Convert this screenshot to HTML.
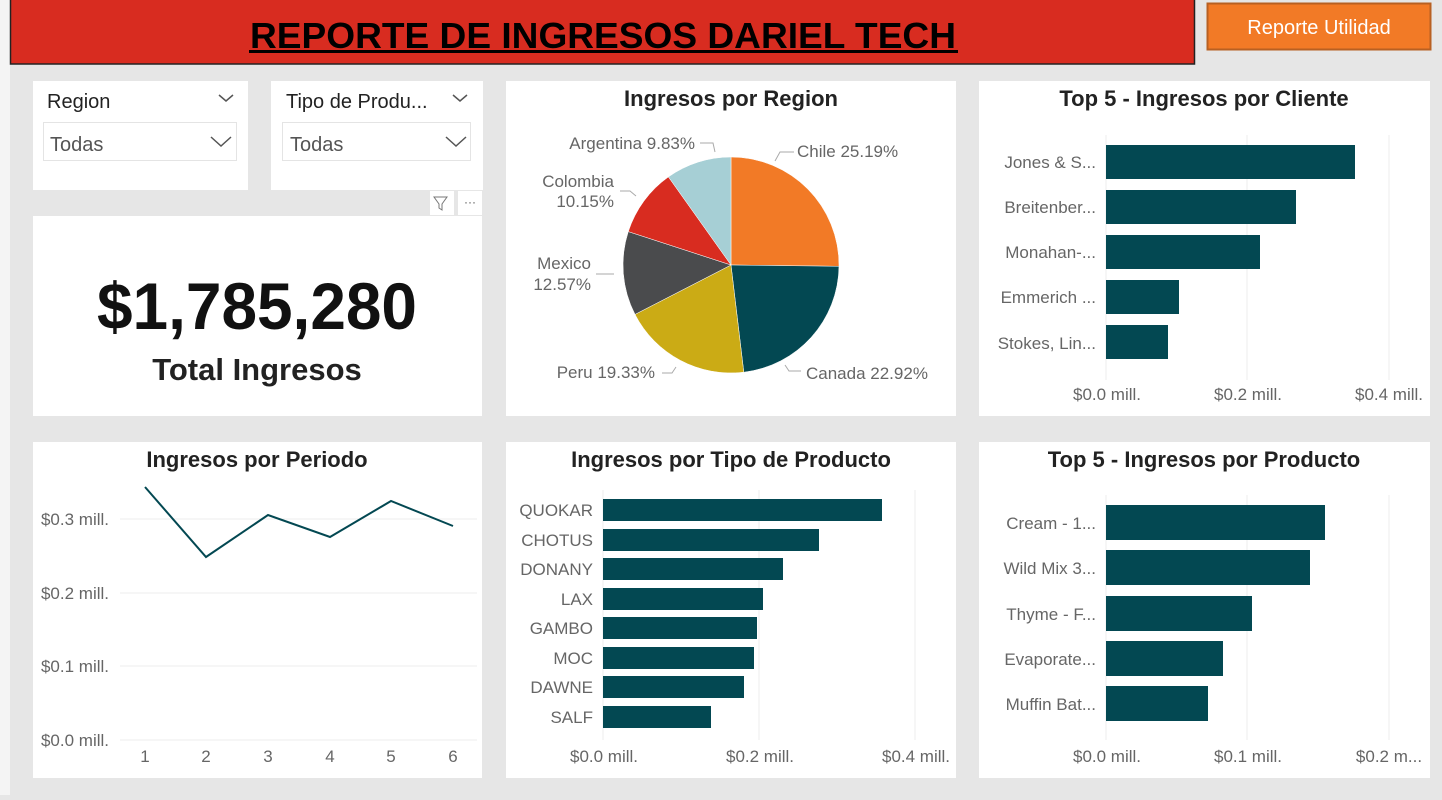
<!DOCTYPE html>
<html><head><meta charset="utf-8"><style>
body{margin:0;width:1442px;height:795px;overflow:hidden;background:#e6e6e6;font-family:"Liberation Sans",sans-serif}
</style></head><body>
<svg width="1442" height="795" xmlns="http://www.w3.org/2000/svg" font-family="Liberation Sans, sans-serif">
<rect x="0" y="0" width="10" height="795" fill="#f4f4f4"/>
<rect x="10.5" y="-1" width="1184" height="65" fill="#d82c20" stroke="#222" stroke-width="1.5"/>
<text x="603" y="48" text-anchor="middle" font-size="36" font-weight="bold" fill="#000" textLength="706" lengthAdjust="spacingAndGlyphs">REPORTE DE INGRESOS DARIEL TECH</text>
<rect x="249" y="50" width="709" height="3" fill="#000"/>
<rect x="1207.5" y="3.5" width="223" height="46" fill="#f27a26" stroke="#b86022" stroke-width="2"/>
<text x="1319" y="34" text-anchor="middle" font-size="20" fill="#fff">Reporte Utilidad</text>

<!-- slicers -->
<rect x="33" y="81" width="215" height="109" fill="#fff"/>
<text x="47" y="108" font-size="20" fill="#222">Region</text>
<path d="M219 95l7 6 7-6" fill="none" stroke="#555" stroke-width="1.5"/>
<rect x="43.5" y="122.5" width="193" height="38" fill="#fff" stroke="#e4e4e4"/>
<text x="50" y="151" font-size="20" fill="#555">Todas</text>
<path d="M211 137l10 9 10-9" fill="none" stroke="#555" stroke-width="1.5"/>
<rect x="271" y="81" width="212" height="109" fill="#fff"/>
<text x="286" y="108" font-size="20" fill="#222">Tipo de Produ...</text>
<path d="M453 95l7 6 7-6" fill="none" stroke="#555" stroke-width="1.5"/>
<rect x="282.5" y="122.5" width="188" height="38" fill="#fff" stroke="#e4e4e4"/>
<text x="290" y="151" font-size="20" fill="#555">Todas</text>
<path d="M446 137l10 9 10-9" fill="none" stroke="#555" stroke-width="1.5"/>
<rect x="430" y="191" width="24" height="24" fill="#fff"/><path d="M434 197h13l-5 7v6l-3-2v-4z" fill="none" stroke="#777"/>
<rect x="458" y="191" width="24" height="24" fill="#fff"/><text x="470" y="206" text-anchor="middle" font-size="12" fill="#555">···</text>

<!-- KPI -->
<rect x="33" y="216" width="449" height="200" fill="#fff"/>
<text x="257" y="329" text-anchor="middle" font-size="66" font-weight="bold" fill="#111" textLength="320" lengthAdjust="spacingAndGlyphs">$1,785,280</text>
<text x="257" y="380" text-anchor="middle" font-size="31" font-weight="bold" fill="#222">Total Ingresos</text>

<!-- pie -->
<rect x="506" y="81" width="450" height="335" fill="#fff"/>
<text x="731" y="106" text-anchor="middle" font-size="22" font-weight="bold" fill="#222">Ingresos por Region</text>
<g stroke="#fff" stroke-width="0.5">
<path d="M731 265L731 157A108 108 0 0 1 839 266.3Z" fill="#f27a26"/>
<path d="M731 265L839 266.3A108 108 0 0 1 743.8 372.2Z" fill="#034852"/>
<path d="M731 265L743.8 372.2A108 108 0 0 1 635 314.4Z" fill="#cbab15"/>
<path d="M731 265L635 314.4A108 108 0 0 1 628.3 231.6Z" fill="#4a4b4d"/>
<path d="M731 265L628.3 231.6A108 108 0 0 1 668.4 176.9Z" fill="#d82c20"/>
<path d="M731 265L668.4 176.9A108 108 0 0 1 731 157Z" fill="#a6cfd5"/>
</g>
<g fill="none" stroke="#aaa"><path d="M775 161l5-9h14"/><path d="M700 143h13l2 9"/><path d="M620 191h10l6 5"/><path d="M596 274h18"/><path d="M662 373h10l4-6"/><path d="M785 365l4 6h12"/></g>
<g font-size="17" fill="#666">
<text x="797" y="157">Chile 25.19%</text>
<text x="695" y="149" text-anchor="end">Argentina 9.83%</text>
<text x="614" y="187" text-anchor="end">Colombia</text><text x="614" y="207" text-anchor="end">10.15%</text>
<text x="591" y="269" text-anchor="end">Mexico</text><text x="591" y="290" text-anchor="end">12.57%</text>
<text x="655" y="378" text-anchor="end">Peru 19.33%</text>
<text x="806" y="379">Canada 22.92%</text>
</g>

<!-- client -->
<rect x="979" y="81" width="451" height="335" fill="#fff"/>
<text x="1204" y="106" text-anchor="middle" font-size="22" font-weight="bold" fill="#222">Top 5 - Ingresos por Cliente</text>
<g stroke="#eee"><path d="M1106 135V380M1247 135V380M1389 135V380"/></g>
<g fill="#034852"><rect x="1106" y="145" width="249" height="34"/><rect x="1106" y="190" width="190" height="34"/><rect x="1106" y="235" width="154" height="34"/><rect x="1106" y="280" width="73" height="34"/><rect x="1106" y="325" width="62" height="34"/></g>
<g font-size="17" fill="#666" text-anchor="end"><text x="1096" y="168">Jones &amp; S...</text><text x="1096" y="213">Breitenber...</text><text x="1096" y="258">Monahan-...</text><text x="1096" y="303">Emmerich ...</text><text x="1096" y="349">Stokes, Lin...</text></g>
<g font-size="17" fill="#666" text-anchor="middle"><text x="1107" y="400">$0.0 mill.</text><text x="1248" y="400">$0.2 mill.</text><text x="1389" y="400">$0.4 mill.</text></g>

<!-- line -->
<rect x="33" y="442" width="449" height="336" fill="#fff"/>
<text x="257" y="467" text-anchor="middle" font-size="22" font-weight="bold" fill="#222">Ingresos por Periodo</text>
<g stroke="#eee"><path d="M120 519H477M120 593H477M120 666H477M120 740H477"/></g>
<g font-size="17" fill="#666" text-anchor="end"><text x="109" y="525">$0.3 mill.</text><text x="109" y="599">$0.2 mill.</text><text x="109" y="672">$0.1 mill.</text><text x="109" y="746">$0.0 mill.</text></g>
<polyline points="145,487 206,557 268,515 330,537 391,501 453,526" fill="none" stroke="#034852" stroke-width="2"/>
<g font-size="17" fill="#666" text-anchor="middle"><text x="145" y="762">1</text><text x="206" y="762">2</text><text x="268" y="762">3</text><text x="330" y="762">4</text><text x="391" y="762">5</text><text x="453" y="762">6</text></g>

<!-- product type -->
<rect x="506" y="442" width="450" height="336" fill="#fff"/>
<text x="731" y="467" text-anchor="middle" font-size="22" font-weight="bold" fill="#222">Ingresos por Tipo de Producto</text>
<g stroke="#eee"><path d="M603 490V740M759 490V740M915 490V740"/></g>
<g fill="#034852"><rect x="603" y="499" width="279" height="22"/><rect x="603" y="529" width="216" height="22"/><rect x="603" y="558" width="180" height="22"/><rect x="603" y="588" width="160" height="22"/><rect x="603" y="617" width="154" height="22"/><rect x="603" y="647" width="151" height="22"/><rect x="603" y="676" width="141" height="22"/><rect x="603" y="706" width="108" height="22"/></g>
<g font-size="17" fill="#666" text-anchor="end"><text x="593" y="516">QUOKAR</text><text x="593" y="546">CHOTUS</text><text x="593" y="575">DONANY</text><text x="593" y="605">LAX</text><text x="593" y="634">GAMBO</text><text x="593" y="664">MOC</text><text x="593" y="693">DAWNE</text><text x="593" y="723">SALF</text></g>
<g font-size="17" fill="#666" text-anchor="middle"><text x="604" y="762">$0.0 mill.</text><text x="760" y="762">$0.2 mill.</text><text x="916" y="762">$0.4 mill.</text></g>

<!-- product -->
<rect x="979" y="442" width="451" height="336" fill="#fff"/>
<text x="1204" y="467" text-anchor="middle" font-size="22" font-weight="bold" fill="#222">Top 5 - Ingresos por Producto</text>
<g stroke="#eee"><path d="M1106 495V740M1247 495V740M1389 495V740"/></g>
<g fill="#034852"><rect x="1106" y="505" width="219" height="35"/><rect x="1106" y="550" width="204" height="35"/><rect x="1106" y="596" width="146" height="35"/><rect x="1106" y="641" width="117" height="35"/><rect x="1106" y="686" width="102" height="35"/></g>
<g font-size="17" fill="#666" text-anchor="end"><text x="1096" y="529">Cream - 1...</text><text x="1096" y="574">Wild Mix 3...</text><text x="1096" y="620">Thyme - F...</text><text x="1096" y="665">Evaporate...</text><text x="1096" y="710">Muffin Bat...</text></g>
<g font-size="17" fill="#666" text-anchor="middle"><text x="1107" y="762">$0.0 mill.</text><text x="1248" y="762">$0.1 mill.</text><text x="1389" y="762">$0.2 m...</text></g>
</svg>
</body></html>
